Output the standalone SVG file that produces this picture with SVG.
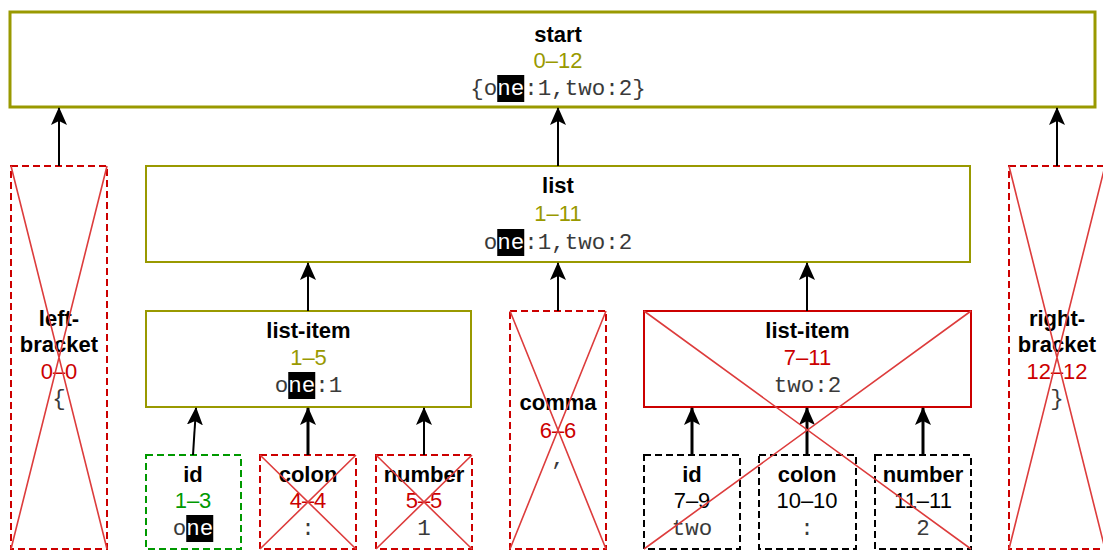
<svg xmlns="http://www.w3.org/2000/svg" width="1103" height="550" viewBox="0 0 1103 550">
<style>
.lbl{font-family:"Liberation Sans",Arial,sans-serif;font-weight:bold;font-size:22px;fill:#000;text-anchor:middle}
.rng{font-family:"Liberation Sans",Arial,sans-serif;font-size:22px;text-anchor:middle}
.mono{font-family:"Liberation Mono","Courier New",monospace;font-size:22.5px;fill:#3a3a3a;text-anchor:middle}
.ol{fill:#999900}.rd{fill:#cc0000}.gr{fill:#009900}.bk{fill:#000}
.hl{fill:#000}
.hlt{fill:#fff}
.box-ol{fill:#fff;stroke:#999900;stroke-width:2}
.box-rd{fill:#fff;stroke:#cc0000;stroke-width:2}
.dash-rd{fill:#fff;stroke:#cc0000;stroke-width:2;stroke-dasharray:7 4}
.dash-gr{fill:#fff;stroke:#009900;stroke-width:2;stroke-dasharray:7 4}
.dash-bk{fill:#fff;stroke:#000;stroke-width:2;stroke-dasharray:7 4}
.x{stroke:#dd3c3c;stroke-width:1.6;fill:none}
.edge{stroke:#000;stroke-width:2;fill:none;marker-end:url(#arr)}
.thick{stroke-width:3}
</style>
<defs>
<marker id="arr" markerUnits="userSpaceOnUse" markerWidth="18" markerHeight="16" viewBox="0 0 18 16" refX="17" refY="8" orient="auto">
<path d="M0,0 L18,8 L0,16 L4,8 z" fill="#000"/>
</marker>
</defs>
<rect x="0" y="0" width="1103" height="550" fill="#fff"/>

<g id="start">
<rect x="10" y="12" width="1085" height="95" fill="#fff" stroke="#999900" stroke-width="3"/>
<text class="lbl" x="558" y="42">start</text>
<text class="rng ol" x="558" y="68">0–12</text>
<rect class="hl" x="497.25" y="75" width="27" height="27"/>
<text class="mono" x="558" y="95">{o<tspan class="hlt">ne</tspan>:1,two:2}</text>
</g>

<g id="list">
<rect class="box-ol" x="146" y="166" width="824" height="96"/>
<text class="lbl" x="558" y="193">list</text>
<text class="rng ol" x="558" y="221">1–11</text>
<rect class="hl" x="497.25" y="229" width="27" height="27"/>
<text class="mono" x="558" y="249">o<tspan class="hlt">ne</tspan>:1,two:2</text>
</g>

<g id="left-bracket">
<rect class="dash-rd" x="11" y="166" width="96" height="383"/>
<text class="lbl" x="59" y="326">left-</text>
<text class="lbl" x="59" y="352">bracket</text>
<text class="rng rd" x="59" y="379">0–0</text>
<text class="mono" x="59" y="405">{</text>
<path class="x" d="M11,166 L107,549 M107,166 L11,549"/>
</g>

<g id="right-bracket">
<rect class="dash-rd" x="1009" y="166" width="96" height="383"/>
<text class="lbl" x="1057" y="326">right-</text>
<text class="lbl" x="1057" y="352">bracket</text>
<text class="rng rd" x="1057" y="379">12–12</text>
<text class="mono" x="1057" y="405">}</text>
<path class="x" d="M1009,166 L1105,549 M1105,166 L1009,549"/>
</g>

<g id="list-item-1">
<rect class="box-ol" x="146" y="311" width="325" height="96"/>
<text class="lbl" x="308.5" y="338">list-item</text>
<text class="rng ol" x="308.5" y="365">1–5</text>
<rect class="hl" x="288.25" y="372" width="27" height="27"/>
<text class="mono" x="308.5" y="392">o<tspan class="hlt">ne</tspan>:1</text>
</g>

<g id="comma">
<rect class="dash-rd" x="510" y="311" width="96" height="238"/>
<text class="lbl" x="558" y="410">comma</text>
<text class="rng rd" x="558" y="438">6–6</text>
<text class="mono" x="558" y="465">,</text>
<path class="x" d="M510,311 L606,549 M606,311 L510,549"/>
</g>

<g id="id-1">
<rect class="dash-gr" x="146" y="455" width="95" height="94"/>
<text class="lbl" x="193" y="482">id</text>
<text class="rng gr" x="193" y="508">1–3</text>
<rect class="hl" x="186.25" y="515" width="27" height="27"/>
<text class="mono" x="193" y="535">o<tspan class="hlt">ne</tspan></text>
</g>

<g id="colon-1">
<rect class="dash-rd" x="260" y="455" width="96" height="94"/>
<text class="lbl" x="308" y="482">colon</text>
<text class="rng rd" x="308" y="508">4–4</text>
<text class="mono" x="308" y="535">:</text>
<path class="x" d="M260,455 L356,549 M356,455 L260,549"/>
</g>

<g id="number-1">
<rect class="dash-rd" x="376" y="455" width="96" height="94"/>
<text class="lbl" x="424" y="482">number</text>
<text class="rng rd" x="424" y="508">5–5</text>
<text class="mono" x="424" y="535">1</text>
<path class="x" d="M376,455 L472,549 M472,455 L376,549"/>
</g>

<g id="list-item-2">
<rect class="box-rd" x="644" y="311" width="327" height="96"/>
<text class="lbl" x="807.5" y="338">list-item</text>
<text class="rng rd" x="807.5" y="365">7–11</text>
<text class="mono" x="807.5" y="392">two:2</text>
</g>

<g id="id-2">
<rect class="dash-bk" x="644" y="455" width="96" height="94"/>
<text class="lbl" x="692" y="482">id</text>
<text class="rng bk" x="692" y="508">7–9</text>
<text class="mono" x="692" y="535">two</text>
</g>

<g id="colon-2">
<rect class="dash-bk" x="759" y="455" width="97" height="94"/>
<text class="lbl" x="807" y="482">colon</text>
<text class="rng bk" x="807" y="508">10–10</text>
<text class="mono" x="807" y="535">:</text>
</g>

<g id="number-2">
<rect class="dash-bk" x="875" y="455" width="96" height="94"/>
<text class="lbl" x="923" y="482">number</text>
<text class="rng bk" x="923" y="508">11–11</text>
<text class="mono" x="923" y="535">2</text>
</g>

<g id="connectors">
<path class="edge" d="M59,166 L59,108"/>
<path class="edge" d="M558,166 L558,108"/>
<path class="edge" d="M1057,166 L1057,108"/>
<path class="edge" d="M308,311 L308,263"/>
<path class="edge" d="M558,311 L558,263"/>
<path class="edge" d="M807,311 L807,263"/>
<path class="edge" d="M193,455 L196,408"/>
<path class="edge thick" d="M308,455 L308,408"/>
<path class="edge" d="M424,455 L424,408"/>
<path class="edge thick" d="M692,455 L692,408"/>
<path class="edge thick" d="M807,455 L807,408"/>
<path class="edge thick" d="M923,455 L923,408"/>
</g>

<g id="list-item-2-cross">
<path class="x" d="M644,311 L971,549 M971,311 L644,549"/>
</g>
</svg>
